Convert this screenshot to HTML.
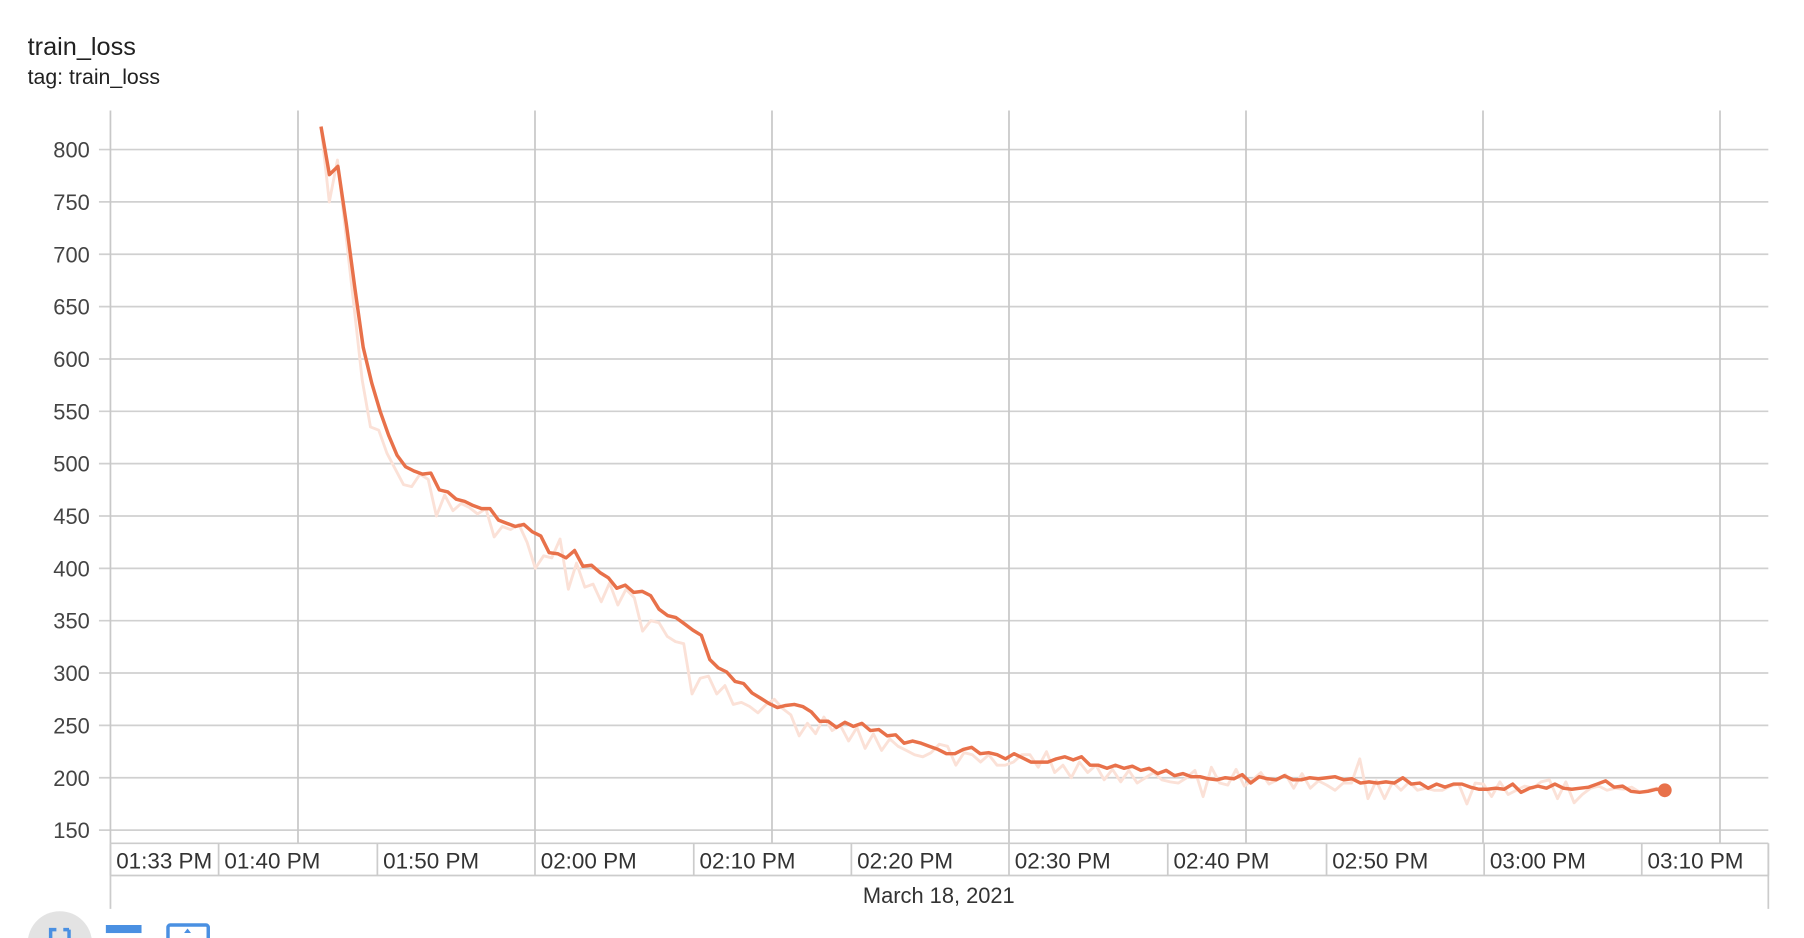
<!DOCTYPE html>
<html><head><meta charset="utf-8"><style>
html,body{margin:0;padding:0;background:#fff;width:1804px;height:938px;overflow:hidden}
svg{display:block;font-family:"Liberation Sans",sans-serif}
</style></head><body>
<svg id="chart" width="1804" height="938" viewBox="0 0 1568 815.3">
<text x="24" y="48" font-size="22" fill="#212121">train_loss</text>
<text x="24" y="73" font-size="18.5" fill="#212121">tag: train_loss</text>
<g id="grid"></g>
<g id="yticks"></g>
<g id="xaxis"></g>
<g id="series"></g>
<g>
<circle cx="52" cy="820" r="28" fill="#e3e3e3"/>
<path d="M44 814v-6h5M60 808h-5M44 814v10M60 808v16" stroke="#4a90e2" stroke-width="3" fill="none"/>
<rect x="92" y="804" width="31" height="7" fill="#4a90e2"/>
<rect x="146" y="804" width="35" height="14" fill="none" stroke="#4a90e2" stroke-width="3" rx="2"/>
<path d="M160 811l3-4 3 4z" fill="#4a90e2"/>
</g>
</svg>
<script>
const yTicks=[150,200,250,300,350,400,450,500,550,600,650,700,750,800];
const xLabels=["01:33 PM","01:40 PM","01:50 PM","02:00 PM","02:10 PM","02:20 PM","02:30 PM","02:40 PM","02:50 PM","03:00 PM","03:10 PM"];
const dateLabel="March 18, 2021";
const smoothed=[822,776,784,729,668,611,577,550,527,508,497,493,490,491,475,473,466,464,460,457,457,446,443,440,442,435,431,415,414,410,417,402,403,396,391,381,384,377,378,374,361,355,353,347,341,336,313,305,301,292,290,281,276,271,267,269,270,268,263,254,254,248,253,249,252,245,246,240,241,233,235,233,230,227,223,223,227,229,223,224,222,218,223,219,215,215,215,218,220,217,220,212,212,209,212,209,211,207,209,204,207,202,204,201,201,199,198,200,199,203,195,201,199,198,202,198,198,200,199,200,201,198,199,195,196,195,196,195,200,194,195,190,194,191,194,194,191,189,189,190,189,194,186,190,192,190,194,190,189,190,191,194,197,191,192,187,186,187,189,188];
const raw=[822,750,790,720,650,580,535,532,510,495,480,478,490,485,450,470,455,462,458,452,457,430,440,437,442,425,400,412,410,428,380,405,382,385,368,386,365,380,372,340,350,348,335,330,328,280,295,297,280,288,270,272,268,262,270,275,266,260,240,252,242,258,245,250,235,248,228,242,226,237,230,226,222,220,224,232,230,212,224,222,215,222,212,212,215,222,222,210,225,205,212,200,215,205,212,198,208,196,207,195,200,205,198,196,195,200,207,182,210,195,193,208,192,198,205,194,198,203,190,204,190,197,193,188,195,195,218,180,197,180,196,188,196,188,190,188,188,192,194,175,195,194,182,196,184,188,192,190,196,198,180,196,176,184,190,192,188,190,189,191,186,188,190,188];
const L=96,R=1537,T=96,B=721,X0=279,X1=1447;
const yScale=v=>130+(800-v)*0.91;
const xScale=(i,n)=>X0+(X1-X0)*i/(n-1);
const NS="http://www.w3.org/2000/svg";
function mk(tag,attrs,parent,text){const e=document.createElementNS(NS,tag);for(const k in attrs)e.setAttribute(k,attrs[k]);if(text!==undefined)e.textContent=text;parent.appendChild(e);return e;}
const grid=document.getElementById('grid'),yt=document.getElementById('yticks'),xa=document.getElementById('xaxis'),se=document.getElementById('series');
yTicks.forEach(v=>{const y=yScale(v);
 const g=mk('line',{x1:86,x2:R,y1:y,y2:y,stroke:'#d0d0d0','stroke-width':1.5},grid);
 
 
 const t=mk('text',{x:78,y:y+7,'text-anchor':'end','font-size':19,fill:'#444'},yt,String(v));
 
 
});
[96,259,465,671,877,1083,1289,1495].forEach(x=>{
 const g=mk('line',{x1:x,x2:x,y1:T,y2:733,stroke:'#c8c8c8','stroke-width':1.5},grid);
 
 
});
const cells=[96,190,328,465,603,740,877,1015,1153,1290,1427,1537];
mk('line',{x1:L,x2:R,y1:733,y2:733,stroke:'#ccc','stroke-width':1.5},xa);
mk('line',{x1:L,x2:R,y1:761,y2:761,stroke:'#ccc','stroke-width':1.5},xa);
mk('line',{x1:L,x2:L,y1:733,y2:790,stroke:'#ccc','stroke-width':1.5},xa);
mk('line',{x1:R,x2:R,y1:733,y2:790,stroke:'#ccc','stroke-width':1.5},xa);
cells.forEach(x=>mk('line',{x1:x,x2:x,y1:733,y2:761,stroke:'#ccc','stroke-width':1.5},xa));
xLabels.forEach((s,i)=>{
 const t=mk('text',{x:cells[i]+5,y:755,'font-size':19.5,fill:'#333'},xa,s);
 
 
});
const dl=mk('text',{x:816,y:785,'text-anchor':'middle','font-size':19,fill:'#333'},xa,dateLabel);


const pr=raw.map((v,i)=>xScale(i,raw.length).toFixed(1)+','+yScale(v).toFixed(1)).join(' ');
const rl=mk('polyline',{points:pr,fill:'none',stroke:'#fbe1d7','stroke-width':2.5,'stroke-linejoin':'round'},se);


const ps=smoothed.map((v,i)=>xScale(i,smoothed.length).toFixed(1)+','+yScale(v).toFixed(1)).join(' ');
const sl=mk('polyline',{points:ps,fill:'none',stroke:'#e8714a','stroke-width':3,'stroke-linejoin':'round'},se);


const n=smoothed.length;
const dot=mk('circle',{cx:xScale(n-1,n),cy:yScale(smoothed[n-1]),r:6,fill:'#e8714a'},se);


</script>
</body></html>
